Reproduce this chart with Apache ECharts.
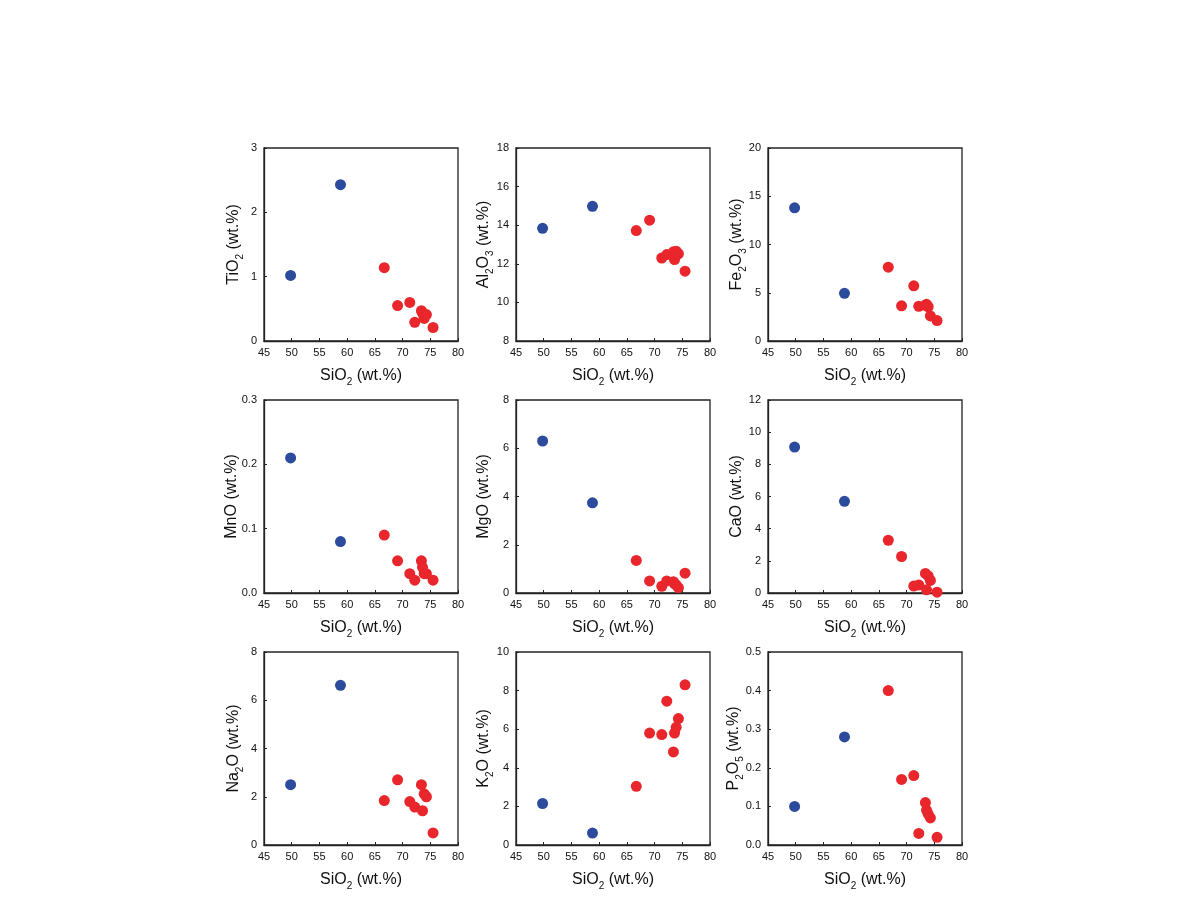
<!DOCTYPE html>
<html>
<head>
<meta charset="utf-8">
<script src="https://cdn.jsdelivr.net/npm/echarts@6/dist/echarts.min.js"></script>
<style>
  html, body { margin: 0; padding: 0; background: #fff; }
  #chart { width: 1190px; height: 908px; }
</style>
</head>
<body>
<div id="chart"></div>
<script>
// sample groups: first two are blue (mafic), the rest red
var group = ["b", "b", "r", "r", "r", "r", "r", "r", "r", "r", "r"];
var sio2  = [49.8, 58.8, 66.7, 69.1, 71.3, 72.2, 73.4, 73.6, 73.9, 74.3, 75.5];

var tio2  = [1.02, 2.43, 1.14, 0.55, 0.60, 0.29, 0.47, 0.43, 0.35, 0.41, 0.21];
var al2o3 = [13.84, 14.98, 13.72, 14.26, 12.30, 12.48, 12.62, 12.22, 12.65, 12.52, 11.62];
var fe2o3 = [13.8, 4.94, 7.65, 3.65, 5.72, 3.6, 3.7, 3.8, 3.55, 2.6, 2.12];
var mno   = [0.21, 0.08, 0.09, 0.05, 0.03, 0.02, 0.05, 0.04, 0.03, 0.03, 0.02];
var mgo   = [6.3, 3.74, 1.35, 0.5, 0.28, 0.5, 0.47, 0.38, 0.34, 0.22, 0.82];
var cao   = [9.07, 5.7, 3.28, 2.27, 0.43, 0.5, 1.22, 0.2, 1.06, 0.78, 0.05];
var na2o  = [2.5, 6.62, 1.84, 2.7, 1.8, 1.57, 2.5, 1.42, 2.12, 2.0, 0.5];
var k2o   = [2.15, 0.62, 3.04, 5.8, 5.72, 7.45, 4.82, 5.8, 6.1, 6.55, 8.3];
var p2o5  = [0.10, 0.28, 0.40, 0.17, 0.18, 0.03, 0.11, 0.09, 0.08, 0.07, 0.02];

// y axis names split into [formula head, subscript, tail]
var oxideNames = [
  ["TiO", "2", ""], ["Al", "2", "O"], ["Fe", "2", "O"],
  ["MnO", "", ""], ["MgO", "", ""], ["CaO", "", ""],
  ["Na", "2", "O"], ["K", "2", "O"], ["P", "2", "O"]
];
var oxideTails = ["", "3", "3", "", "", "", "", "", "5"];
var oxideValues = [tio2, al2o3, fe2o3, mno, mgo, cao, na2o, k2o, p2o5];
var yMin = [0, 8, 0, 0, 0, 0, 0, 0, 0];
var yMax = [3, 18, 20, 0.3, 8, 12, 8, 10, 0.5];
var yStep = [1, 2, 5, 0.1, 2, 2, 2, 2, 0.1];
var yDecimals = [0, 0, 0, 1, 0, 0, 0, 0, 1];
var yNameGaps = [20, 22, 21, 22, 22, 21, 20, 22, 24];

var xMin = 45, xMax = 80, xStep = 5;

var gridLefts = [264, 516, 768];
var gridTops = [148, 400, 652];
var gridW = 194, gridH = 193;

var BLUE = "#2c4b9c", RED = "#e8262b";

var rich = {
  m: { fontSize: 16, fontFamily: "Liberation Sans, Arial", color: "#111", lineHeight: 20 },
  s: { fontSize: 10, fontFamily: "Liberation Sans, Arial", color: "#111", verticalAlign: "bottom", lineHeight: 12, padding: [0, 0, -1, 0] }
};

function axisName(n, tail) {
  var s = "{m|" + n[0] + "}";
  if (n[1]) s += "{s|" + n[1] + "}";
  if (n[2]) s += "{m|" + n[2] + "}";
  if (tail) s += "{s|" + tail + "}";
  s += "{m| (wt.%)}";
  return s;
}

var grids = [], xAxes = [], yAxes = [], series = [];
for (var i = 0; i < 9; i++) {
  var r = Math.floor(i / 3), c = i % 3;
  grids.push({
    left: gridLefts[c], top: gridTops[r], width: gridW, height: gridH,
    show: true, borderColor: "#222", borderWidth: 1.3, containLabel: false
  });
  xAxes.push({
    gridIndex: i, type: "value", min: xMin, max: xMax, interval: xStep,
    name: "{m|SiO}{s|2}{m| (wt.%)}",
    nameLocation: "middle", nameGap: 25, nameMoveOverlap: false,
    nameTextStyle: { rich: rich },
    axisLine: { onZero: false, lineStyle: { color: "#222", width: 1.3 } },
    axisTick: { inside: true, length: 3, lineStyle: { color: "#222" } },
    axisLabel: { fontSize: 11, fontFamily: "Liberation Sans, Arial", color: "#111", margin: 6 },
    splitLine: { show: false }
  });
  var dec = yDecimals[i];
  yAxes.push({
    gridIndex: i, type: "value", min: yMin[i], max: yMax[i], interval: yStep[i],
    name: axisName(oxideNames[i], oxideTails[i]),
    nameLocation: "middle", nameGap: yNameGaps[i], nameMoveOverlap: false,
    nameTextStyle: { rich: rich },
    axisLine: { onZero: false, lineStyle: { color: "#222", width: 1.3 } },
    axisTick: { inside: true, length: 3, lineStyle: { color: "#222" } },
    axisLabel: {
      fontSize: 11, fontFamily: "Liberation Sans, Arial", color: "#111", margin: 7,
      formatter: (function (d) { return function (v) { return v.toFixed(d); }; })(dec)
    },
    splitLine: { show: false }
  });
  var blue = [], red = [];
  for (var k = 0; k < sio2.length; k++) {
    var pt = [sio2[k], oxideValues[i][k]];
    if (group[k] === "b") blue.push(pt); else red.push(pt);
  }
  series.push({
    type: "scatter", xAxisIndex: i, yAxisIndex: i, data: blue,
    symbolSize: 11, itemStyle: { color: BLUE, opacity: 1 }
  });
  series.push({
    type: "scatter", xAxisIndex: i, yAxisIndex: i, data: red,
    symbolSize: 11, itemStyle: { color: RED, opacity: 1 }
  });
}

var chart = echarts.init(document.getElementById("chart"));
chart.setOption({
  backgroundColor: "#fff",
  animation: false,
  grid: grids,
  xAxis: xAxes,
  yAxis: yAxes,
  series: series
});
</script>
</body>
</html>
